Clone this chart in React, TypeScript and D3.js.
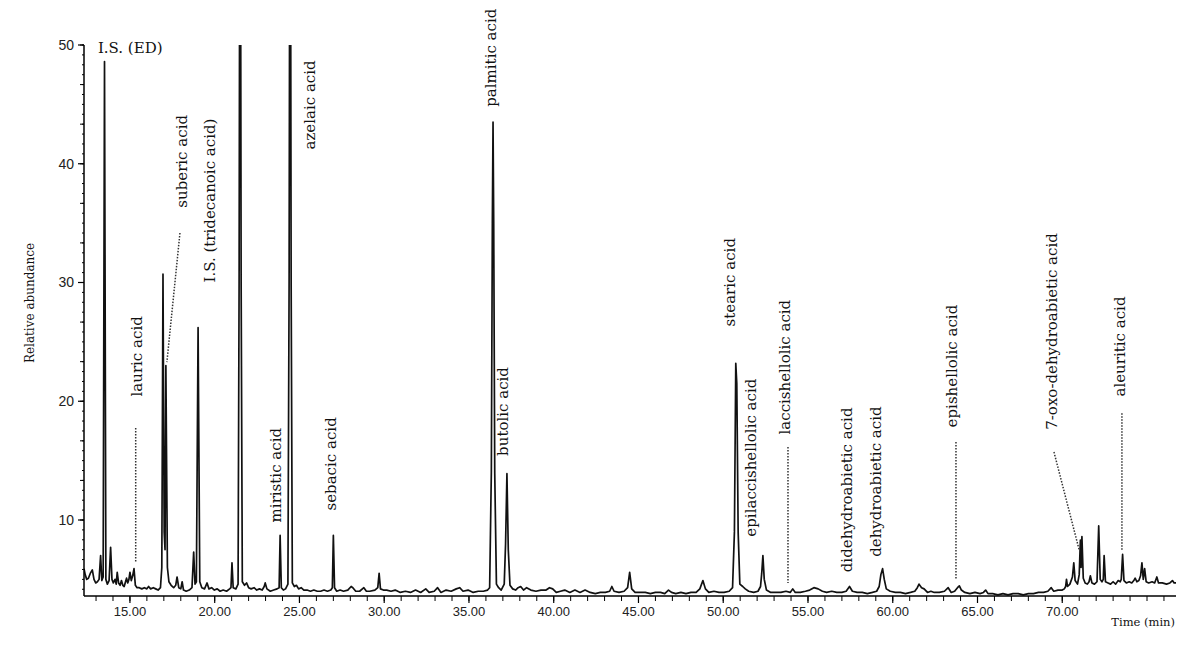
import React from 'react';
import * as d3 from 'd3';

// chromatogram trace (time in min, relative abundance)
const retentionTimes = [
  12.29, 12.36, 12.45, 12.55, 12.66, 12.78, 12.88, 12.98, 13.08, 13.18,
  13.27, 13.34, 13.42, 13.50, 13.58, 13.67, 13.77, 13.86, 13.94, 14.02,
  14.12, 14.19, 14.25, 14.33, 14.42, 14.50, 14.58, 14.66, 14.74, 14.80,
  14.87, 14.94, 15.00, 15.08, 15.16, 15.24, 15.32, 15.42, 15.55, 15.70,
  15.85, 16.00, 16.10, 16.22, 16.38, 16.52, 16.66, 16.80, 16.88, 16.95,
  17.02, 17.07, 17.12, 17.21, 17.30, 17.43, 17.58, 17.70, 17.78, 17.88,
  18.00, 18.08, 18.16, 18.32, 18.50, 18.66, 18.76, 18.84, 18.92, 19.02,
  19.12, 19.24, 19.40, 19.55, 19.66, 19.82, 19.98, 20.15, 20.32, 20.50,
  20.70, 20.88, 20.96, 21.02, 21.09, 21.25, 21.38, 21.44, 21.47, 21.53,
  21.56, 21.63, 21.76, 21.88, 22.00, 22.15, 22.32, 22.48, 22.64, 22.80,
  22.92, 22.98, 23.08, 23.28, 23.48, 23.68, 23.80, 23.86, 23.93, 24.05,
  24.18, 24.32, 24.39, 24.42, 24.48, 24.51, 24.58, 24.70, 24.82, 24.95,
  25.10, 25.26, 25.45, 25.65, 25.85, 26.05, 26.25, 26.45, 26.65, 26.85,
  26.94, 27.00, 27.07, 27.20, 27.40, 27.60, 27.85, 28.05, 28.15, 28.32,
  28.55, 28.80, 28.95, 29.15, 29.45, 29.62, 29.70, 29.78, 29.95, 30.15,
  30.40, 30.65, 30.95, 31.25, 31.55, 31.85, 32.15, 32.45, 32.65, 32.95,
  33.15, 33.35, 33.65, 33.95, 34.25, 34.45, 34.65, 34.95, 35.25, 35.55,
  35.85, 36.10, 36.22, 36.32, 36.38, 36.42, 36.46, 36.52, 36.62, 36.75,
  36.90, 37.08, 37.16, 37.24, 37.32, 37.42, 37.58, 37.75, 37.90, 38.05,
  38.22, 38.40, 38.65, 38.95, 39.25, 39.55, 39.75, 39.94, 40.15, 40.40,
  40.65, 40.95, 41.25, 41.55, 41.85, 42.15, 42.45, 42.75, 43.05, 43.30,
  43.43, 43.56, 43.85, 44.15, 44.36, 44.48, 44.60, 44.80, 45.10, 45.40,
  45.70, 46.00, 46.30, 46.55, 46.77, 46.95, 47.20, 47.50, 47.80, 48.10,
  48.40, 48.62, 48.80, 48.95, 49.15, 49.45, 49.75, 50.05, 50.35, 50.55,
  50.66, 50.74, 50.80, 50.88, 50.98, 51.15, 51.30, 51.50, 51.80, 52.05,
  52.20, 52.27, 52.34, 52.42, 52.55, 52.80, 53.10, 53.40, 53.70, 53.95,
  54.10, 54.25, 54.55, 54.85, 55.10, 55.35, 55.60, 55.85, 56.10, 56.40,
  56.70, 57.00, 57.25, 57.45, 57.62, 57.90, 58.20, 58.50, 58.80, 59.05,
  59.20, 59.30, 59.40, 59.50, 59.62, 59.85, 60.15, 60.45, 60.75, 61.05,
  61.30, 61.45, 61.55, 61.70, 61.85, 62.05, 62.25, 62.45, 62.75, 63.05,
  63.27, 63.45, 63.65, 63.82, 63.93, 64.05, 64.25, 64.55, 64.85, 65.15,
  65.35, 65.48, 65.62, 65.90, 66.20, 66.50, 66.80, 67.10, 67.40, 67.70,
  68.00, 68.30, 68.60, 68.90, 69.15, 69.35, 69.50, 69.75, 70.00, 70.12,
  70.20, 70.25, 70.31, 70.45, 70.60, 70.68, 70.76, 70.90, 71.00, 71.07,
  71.11, 71.16, 71.24, 71.35, 71.48, 71.58, 71.66, 71.75, 71.90, 72.05,
  72.15, 72.24, 72.34, 72.42, 72.47, 72.55, 72.70, 72.85, 73.00, 73.15,
  73.30, 73.42, 73.48, 73.56, 73.64, 73.78, 73.95, 74.10, 74.22, 74.30,
  74.40, 74.52, 74.62, 74.70, 74.78, 74.86, 74.95, 75.10, 75.30, 75.45,
  75.58, 75.68, 75.90, 76.15, 76.35, 76.50, 76.60, 76.71,
];

const abundances = [
  5.9, 5.4, 5.0, 5.1, 5.5, 5.8, 5.0, 4.7, 4.8, 5.0,
  7.0, 4.9, 5.2, 48.6, 5.0, 4.6, 4.9, 7.7, 5.0, 4.7,
  5.0, 4.6, 5.6, 4.7, 4.5, 4.9, 4.5, 4.4, 4.8, 5.1,
  4.7, 5.0, 5.6, 4.9, 5.3, 5.9, 4.5, 4.3, 4.3, 4.2,
  4.3, 4.2, 4.4, 4.2, 4.3, 4.2, 4.1, 4.3, 6.0, 30.7,
  9.0, 7.5, 23.0, 6.0, 4.8, 4.5, 4.3, 4.5, 5.2, 4.3,
  4.2, 4.8, 4.1, 4.0, 4.1, 4.3, 7.3, 4.6, 4.8, 26.2,
  4.8, 4.3, 4.2, 4.7, 4.2, 4.3, 4.1, 4.2, 4.0, 4.1,
  4.0, 4.2, 4.3, 6.4, 4.3, 4.2, 4.6, 30.0, 56.0, 56.0,
  30.0, 4.8, 4.5, 4.7, 4.3, 4.2, 4.3, 4.1, 4.2, 4.1,
  4.4, 4.7, 4.2, 4.0, 4.1, 4.2, 4.3, 8.7, 4.3, 4.1,
  4.2, 4.6, 30.0, 56.0, 56.0, 30.0, 4.7, 4.4, 4.5, 4.2,
  4.3, 4.1, 4.1, 4.0, 4.1, 4.0, 4.0, 4.1, 4.0, 4.1,
  4.3, 8.7, 4.3, 4.0, 4.1, 4.0, 4.1, 4.4, 4.3, 4.0,
  4.0, 4.3, 4.0, 4.0, 4.1, 4.3, 5.5, 4.2, 4.1, 4.1,
  4.0, 4.1, 3.9, 4.0, 3.9, 4.1, 3.9, 4.2, 3.9, 4.0,
  4.3, 3.9, 4.1, 4.0, 4.2, 4.3, 4.0, 4.1, 3.9, 4.0,
  4.0, 4.1, 4.3, 14.0, 35.0, 43.5, 35.0, 14.0, 4.6, 4.3,
  4.1, 4.6, 8.0, 13.9, 7.5, 4.5, 4.2, 4.1, 4.3, 4.4,
  4.1, 4.3, 4.1, 4.0, 4.1, 4.1, 4.3, 4.2, 3.9, 4.0,
  4.1, 3.9, 4.1, 3.9, 4.1, 3.9, 3.8, 3.9, 3.9, 4.0,
  4.4, 4.0, 3.9, 4.0, 4.3, 5.6, 4.2, 3.9, 3.9, 3.9,
  3.8, 3.9, 3.9, 3.8, 4.1, 3.9, 3.8, 3.9, 3.8, 3.9,
  3.9, 4.2, 4.9, 4.2, 3.9, 4.0, 3.9, 3.9, 4.0, 4.3,
  9.0, 23.2, 21.5, 9.0, 4.6, 4.4, 4.2, 4.0, 3.9, 4.0,
  4.4, 5.5, 7.0, 5.0, 4.1, 3.9, 3.9, 3.9, 4.0, 3.9,
  4.2, 3.9, 3.9, 4.0, 4.1, 4.3, 4.2, 4.0, 3.9, 4.0,
  3.9, 3.9, 4.0, 4.4, 4.0, 3.9, 3.9, 3.8, 3.9, 4.0,
  4.4, 5.4, 5.9, 5.0, 4.2, 4.0, 3.9, 3.9, 3.8, 3.9,
  4.0, 4.3, 4.6, 4.3, 4.2, 3.9, 4.0, 3.9, 3.9, 4.0,
  4.3, 3.9, 4.0, 4.3, 4.45, 4.1, 3.9, 3.8, 3.9, 3.8,
  3.9, 4.1, 3.8, 3.8, 3.7, 3.8, 3.7, 3.8, 3.8, 3.7,
  3.8, 3.8, 3.9, 3.9, 4.0, 4.3, 4.0, 4.1, 4.1, 4.2,
  4.4, 5.0, 4.4, 4.6, 5.2, 6.4, 4.9, 4.6, 5.4, 8.3,
  6.0, 8.6, 5.1, 4.7, 4.6, 4.8, 5.3, 4.7, 4.6, 4.8,
  9.5, 5.0, 4.8, 5.0, 7.0, 4.8, 4.7, 4.6, 4.8, 4.6,
  4.9, 4.8, 5.0, 7.1, 4.9, 4.7, 4.8, 4.7, 4.9, 5.1,
  4.8, 4.9, 5.3, 6.4, 5.0, 5.9, 4.8, 4.7, 4.8, 4.7,
  5.2, 4.7, 4.7, 4.6, 4.7, 4.9, 4.7, 4.7,
];

const yTickValues = [10, 20, 30, 40, 50];
const xTickValues = [15, 20, 25, 30, 35, 40, 45, 50, 55, 60, 65, 70];

// peak annotations: text, time of the text column, abundance where the text starts
const labelNames = [
  'lauric acid', 'suberic acid', 'I.S. (tridecanoic acid)', 'miristic acid',
  'azelaic acid', 'sebacic acid', 'palmitic acid', 'butolic acid',
  'stearic acid', 'epilaccishellolic acid', 'laccishellolic acid',
  'didehydroabietic acid', 'dehydroabietic acid', 'epishellolic acid',
  '7-oxo-dehydroabietic acid', 'aleuritic acid',
];
const labelTimes = [
  15.41, 18.07, 19.72, 23.61, 25.62, 26.86, 36.30, 37.00,
  50.40, 51.64, 53.64, 57.30, 59.01, 63.50, 69.40, 73.41,
];
const labelLevels = [
  20.4, 36.3, 30.0, 9.8, 41.2, 10.8, 44.8, 15.4,
  26.3, 8.6, 17.2, 5.6, 6.9, 17.8, 17.6, 20.4,
];

// dotted leader lines [t1, v1, t2, v2]
const leaders = [
  [15.34, 17.75, 15.34, 6.38],
  [17.95, 34.17, 17.18, 23.3],
  [53.82, 16.15, 53.82, 4.69],
  [63.73, 16.57, 63.73, 4.95],
  [69.51, 15.73, 71.0, 7.47],
  [73.52, 19.0, 73.52, 7.47],
];

const App = () => {
  const width = 1200;
  const height = 667;
  const left = 84, right = 1176, top = 45, bottom = 596;

  const x = d3.scaleLinear().domain([12.29, 76.71]).range([left, right]);
  const y = d3.scaleLinear().domain([3.6, 50]).range([bottom, top]);

  const points = retentionTimes.map((t, i) => [t, abundances[i]] as [number, number]);
  const line = d3.line<[number, number]>()
    .x(d => x(d[0]))
    .y(d => y(d[1]));

  const xMinor = d3.range(13, 77, 1);
  const yMid = d3.range(0, 13).map(i => 50 - i * 10 / 3).filter(v => v > 3.6);
  const yMinor = d3.range(0, 60).map(i => 50 - i * 10 / 12).filter(v => v > 3.6);

  const serif = '"DejaVu Serif", serif';
  const sans = '"Liberation Sans", Arial, sans-serif';

  return (
    <svg width={width} height={height} style={{ position: 'absolute', left: 0, top: 0, background: '#fff' }}>
      <defs>
        <clipPath id="plot-clip">
          <rect x={left} y={top} width={right - left} height={bottom - top} />
        </clipPath>
      </defs>

      {/* trace */}
      <path d={line(points) || ''} fill="none" stroke="#111" strokeWidth={1.7}
        strokeLinejoin="round" clipPath="url(#plot-clip)" />

      {/* axes */}
      <line x1={left} x2={left} y1={top} y2={bottom} stroke="#000" strokeWidth={1.5} />
      <line x1={left} x2={right} y1={bottom} y2={bottom} stroke="#000" strokeWidth={1.5} />

      {yMinor.map(v => (
        <line key={'ym' + v} x1={left - 2} x2={left} y1={y(v)} y2={y(v)} stroke="#000" strokeWidth={1} />
      ))}
      {yMid.map(v => (
        <line key={'yd' + v} x1={left - 4} x2={left} y1={y(v)} y2={y(v)} stroke="#000" strokeWidth={1} />
      ))}
      {yTickValues.map(v => (
        <g key={'y' + v}>
          <line x1={left - 6} x2={left} y1={y(v)} y2={y(v)} stroke="#000" strokeWidth={1.2} />
          <text x={left - 10} y={y(v)} dy="0.35em" textAnchor="end"
            fontFamily={sans} fontSize={14} fill="#222">{v}</text>
        </g>
      ))}

      {xMinor.map(t => (
        <line key={'xm' + t} x1={x(t)} x2={x(t)} y1={bottom} y2={bottom + 5} stroke="#000" strokeWidth={1} />
      ))}
      {xTickValues.map(t => (
        <g key={'x' + t}>
          <line x1={x(t)} x2={x(t)} y1={bottom} y2={bottom + 7} stroke="#000" strokeWidth={1.2} />
          <text x={x(t)} y={bottom + 20} textAnchor="middle"
            fontFamily={sans} fontSize={13} fill="#222">{t.toFixed(2)}</text>
        </g>
      ))}

      <text transform={`translate(30, 303) rotate(-90)`} textAnchor="middle" dy="0.35em"
        fontFamily={serif} fontSize={12} fill="#111">Relative abundance</text>
      <text x={1175} y={626} textAnchor="end" fontFamily={serif} fontSize={11.5} fill="#111">Time (min)</text>

      {/* leaders */}
      {leaders.map((l, i) => (
        <line key={'ld' + i} x1={x(l[0])} y1={y(l[1])} x2={x(l[2])} y2={y(l[3])}
          stroke="#333" strokeWidth={1.5} strokeDasharray="1.5,1.5" />
      ))}

      {/* labels */}
      <text x={x(13.11)} y={y(49.3)} fontFamily={serif} fontSize={15} fill="#111">I.S. (ED)</text>
      {labelNames.map((name, i) => (
        <text key={name} transform={`translate(${x(labelTimes[i])},${y(labelLevels[i])}) rotate(-90)`}
          dy="0.35em" fontFamily={serif} fontSize={15} fill="#111">{name}</text>
      ))}
    </svg>
  );
};

export default App;
